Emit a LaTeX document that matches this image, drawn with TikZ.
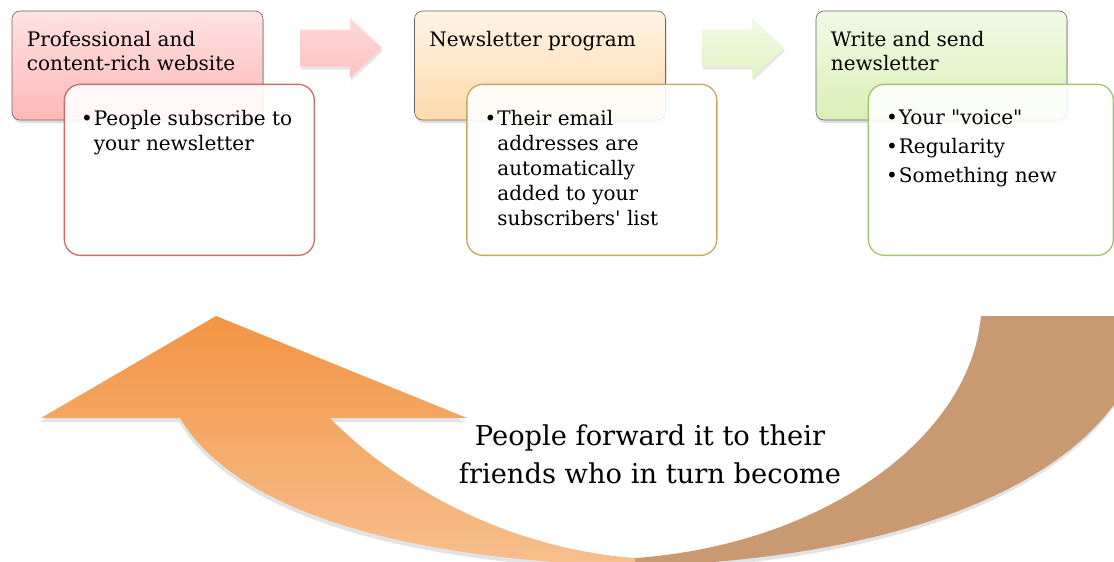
\documentclass[tikz,border=0pt]{standalone}
\usepackage{fontspec}
\setmainfont{DejaVu Serif}[Ligatures=TeXOff]
\usepackage{tikz}
\usetikzlibrary{positioning,shadows,calc}
\definecolor{redline}{HTML}{CC6B67}
\definecolor{goldline}{HTML}{C9A65C}
\definecolor{greenline}{HTML}{A3C26B}
\definecolor{redtop}{HTML}{FFE2E2}
\definecolor{redbot}{HTML}{FFB7B7}
\definecolor{ambertop}{HTML}{FFF3E4}
\definecolor{amberbot}{HTML}{FFDAAC}
\definecolor{limetop}{HTML}{F1F9E6}
\definecolor{limebot}{HTML}{DAF0B6}
\definecolor{orangetop}{HTML}{F39443}
\definecolor{orangebot}{HTML}{F6BF8E}
\definecolor{brownfill}{HTML}{C99A72}
\newcommand{\itembullet}{\llap{\textbullet\hspace{1pt}}}
\tikzset{
  headbox/.style={draw=gray!80!black, line width=0.6pt, rounded corners=8pt, minimum width=251pt, minimum height=109pt, drop shadow={opacity=0.25, shadow xshift=1pt, shadow yshift=-3pt}}, % stage title
  subbox/.style={draw, line width=1.3pt, rounded corners=16pt, fill=white, fill opacity=0.9, minimum width=250pt, minimum height=171pt}, % bullet box
  headtext/.style={anchor=north west, inner sep=0pt, align=left, font=\fontsize{20}{24}\selectfont},
  itemtext/.style={anchor=north west, inner sep=0pt, align=left, font=\fontsize{20}{25}\selectfont},
  flowarrow/.style={drop shadow={opacity=0.2, shadow xshift=1pt, shadow yshift=-3pt}},
  looparrow/.style={drop shadow={opacity=0.22, shadow xshift=-1pt, shadow yshift=-4pt}},
  looptext/.style={align=center, font=\fontsize{27.3}{38}\selectfont}
}
\begin{document}
\begin{tikzpicture}[x=1pt,y=-1pt]
    \useasboundingbox (0,0) rectangle (1114,562);
    \clip (0,0) rectangle (1114,562);

    % Loop arrow at the bottom
    \fill[brownfill, looparrow] (981,316) -- (1150,316) .. controls (1130,480) and (900,560) .. (635,566)
        -- (635,558) .. controls (820,545) and (970,440) .. (981,316) -- cycle;
    \shade[top color=orangetop, bottom color=orangebot, looparrow] (216,316) -- (467,418) -- (330,418)
        .. controls (390,480) and (500,548) .. (635,558) -- (635,566)
        .. controls (400,560) and (235,510) .. (180,418) -- (41,418) -- cycle;
    \node[looptext, anchor=north] (loop) at (650,421) {People forward it to their\\friends who in turn become};

    % Stage titles
    \node[headbox, top color=redtop, bottom color=redbot] (web) at (137.5,65.5) {};
    \node[headbox, top color=ambertop, bottom color=amberbot] (prog) at (540,65.5) {};
    \node[headbox, top color=limetop, bottom color=limebot] (send) at (941.5,65.5) {};

    % Block arrows between stages
    \coordinate (a1) at (300,48);
    \coordinate (a2) at (702,48);
    \shade[flowarrow, top color=red!15, bottom color=red!24] (a1) ++(0,-18.5) -- ++(50,0) -- ++(0,-11.5) -- ++(32,30)
        -- ++(-32,30) -- ++(0,-11.5) -- ++(-50,0) -- cycle;
    \shade[flowarrow, top color=limetop, bottom color=limebot!80] (a2) ++(0,-18.5) -- ++(50,0) -- ++(0,-11.5) -- ++(32,30)
        -- ++(-32,30) -- ++(0,-11.5) -- ++(-50,0) -- cycle;

    % Bullet boxes
    \node[subbox, draw=redline, anchor=north west] (subs) at ([shift={(52,73)}]web.north west) {};
    \node[subbox, draw=goldline, anchor=north west] (list) at ([shift={(52,73)}]prog.north west) {};
    \node[subbox, draw=greenline, anchor=north west, minimum width=245pt] (tips) at ([shift={(52,73)}]send.north west) {};

    % Texts
    \node[headtext] (webt) at ([shift={(15,20)}]web.north west) {Professional and\\content-rich website};
    \node[headtext] (progt) at ([shift={(15,20)}]prog.north west) {Newsletter program};
    \node[headtext] (sendt) at ([shift={(15,20)}]send.north west) {Write and send\\newsletter};

    \node[itemtext] (subst) at ([shift={(30,26)}]subs.north west) {\itembullet People subscribe to\\your newsletter};
    \node[itemtext] (listt) at ([shift={(31,26)}]list.north west) {\itembullet Their email\\addresses are\\automatically\\added to your\\subscribers' list};
    \node[itemtext] (tipst) at ([shift={(31,26)}]tips.north west) {\itembullet Your "voice"\\[4pt]\itembullet Regularity\\[4pt]\itembullet Something new};
\end{tikzpicture}
\end{document}
